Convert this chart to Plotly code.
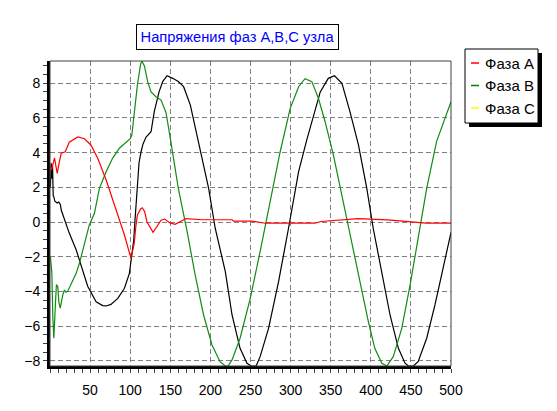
import plotly.graph_objects as go

# ---------------- data ----------------
t_a = [0, 2, 5.6, 9, 11.8, 14, 19, 24, 34.6, 43, 51, 59.5, 70, 82.4, 92.8, 101,
       105, 107, 109, 113, 115, 118, 121, 128.5, 138.5, 143, 149, 156, 169.6,
       190, 227, 229, 252, 268, 330, 338, 359, 384, 421, 448, 469, 500]
v_a = [3.3, 3.0, 3.7, 2.8, 3.5, 3.96, 4.05, 4.6, 4.9, 4.8, 4.44, 3.67, 2.42, 0.7,
       -0.75, -2.1, -1.23, -0.27, 0.4, 0.75, 0.82, 0.6, 0.0, -0.6, 0.1, 0.17,
       -0.04, -0.13, 0.2, 0.13, 0.13, 0.05, 0.05, -0.07, -0.07, 0.03, 0.1, 0.2,
       0.12, 0.03, -0.06, -0.06]

t_b = [0.5, 2.3, 3.5, 4.8, 6.8, 8, 9.7, 11, 12.7, 14.5, 16, 18, 20, 22, 26.4,
       32.6, 36.7, 43, 49, 55.4, 61.6, 70, 78, 86.5, 95, 100, 102, 105, 109,
       113, 114.5, 117.7, 121.8, 126, 132, 138.5, 144.7, 150, 155, 160, 171,
       181, 191.5, 202, 212, 218.6, 222, 227, 237, 249.7, 262, 274.6, 287,
       299.5, 310, 318, 326.5, 334.7, 343, 353.4, 364, 376, 386.7, 397, 405,
       413.7, 420, 428, 438.6, 449, 459, 469.7, 482, 492.5, 500]
v_b = [-2.0, -2.9, -5.46, -6.7, -4.69, -3.6, -3.73, -4.6, -4.97, -4.4, -4.2,
       -3.92, -4.05, -4.0, -3.53, -2.96, -2.38, -1.23, -0.17, 0.5, 1.94, 2.9,
       3.67, 4.25, 4.63, 4.8, 5.0, 6.36, 7.9, 9.1, 9.28, 9.0, 8.09, 7.5, 7.22,
       7.03, 6.3, 4.82, 3.48, 1.94, -0.56, -3.05, -5.36, -7.09, -8.05, -8.3,
       -8.3, -7.95, -6.7, -4.4, -1.71, 1.17, 4.05, 6.55, 7.8, 8.26, 8.09, 7.13,
       5.78, 3.86, 1.56, -1.13, -3.44, -5.75, -7.28, -8.14, -8.3, -7.76, -6.13,
       -3.63, -0.94, 1.94, 4.63, 5.98, 6.93]

t_c = [0.5, 1.5, 2.5, 3.2, 4, 4.8, 6, 9, 11, 13, 14, 18, 24, 32.6, 38.8, 47,
       57.5, 65.7, 70, 76, 84.5, 92.8, 99, 101.9, 104.4, 106, 107.5, 109, 111,
       113.5, 116, 119.8, 126, 130, 136, 140.5, 146, 153, 156, 160, 166.6, 175,
       185, 197.8, 206, 218.6, 227, 237, 245.6, 251, 257, 262, 272.5, 285,
       297.4, 310, 320, 330.6, 337, 347, 354.7, 364, 374, 384.6, 395, 403,
       413.7, 424, 434.4, 442.7, 447, 453, 459, 469.7, 480, 490, 500]
v_c = [2.0, 3.4, 2.5, 3.2, 1.5, 1.46, 1.2, 1.09, 1.15, 1.0, 0.69, 0.12, -0.64,
       -1.6, -2.57, -3.7, -4.6, -4.82, -4.84, -4.75, -4.4, -3.82, -2.96, -2.0,
       -1.04, 0.12, 1.2, 2.13, 3.4, 4.05, 4.5, 4.9, 5.2, 6.36, 7.5, 8.09, 8.43,
       8.28, 8.22, 8.1, 7.8, 6.74, 4.63, 1.94, -0.36, -2.86, -5.36, -7.28,
       -8.14, -8.3, -8.3, -7.76, -6.13, -3.44, -0.36, 2.9, 4.7, 6.55, 7.5, 8.28,
       8.43, 7.99, 6.36, 4.44, 1.94, -0.36, -2.86, -5.36, -7.28, -8.14, -8.3,
       -8.3, -8.05, -6.7, -4.78, -2.67, -0.6]

x_ticks = [50, 100, 150, 200, 250, 300, 350, 400, 450, 500]
y_ticks = [-8, -6, -4, -2, 0, 2, 4, 6, 8]
legend_names = ["Фаза A", "Фаза B", "Фаза C"]
legend_colors = ["#ff0000", "#008000", "#ffff00"]
title_text = "Напряжения фаз A,B,C узла"

# ---------------- figure ----------------
W, H = 557, 411
ML, MR, MT, MB = 50, 106, 61, 45
PW, PH = W - ML - MR, H - MT - MB
FONT = "Liberation Sans, Arial, sans-serif"


def px(x):
    return (x - ML) / PW


def py(y):
    return (H - MB - y) / PH


fig = go.Figure()
fig.add_trace(go.Scatter(x=t_c, y=v_c, mode="lines", name="Фаза C",
                         line=dict(color="#000000", width=1.2), showlegend=False))
fig.add_trace(go.Scatter(x=t_b, y=v_b, mode="lines", name="Фаза B",
                         line=dict(color="#108c10", width=1.2), showlegend=False))
fig.add_trace(go.Scatter(x=t_a, y=v_a, mode="lines", name="Фаза A",
                         line=dict(color="#ff0000", width=1.2), showlegend=False))

axis_common = dict(
    showgrid=True, gridcolor="#808080", gridwidth=1, griddash="5px,3px",
    zeroline=False, showline=True, linecolor="#000000", linewidth=3,
    ticks="outside", ticklen=4, tickcolor="#404040", tickwidth=1,
    tickfont=dict(family=FONT, size=14, color="#000000"),
)

fig.update_xaxes(range=[0, 500], tickmode="array", tickvals=x_ticks,
                 ticklabelstandoff=5,
                 minor=dict(dtick=10, tick0=0, ticks="outside", ticklen=4,
                            tickcolor="#404040", showgrid=False),
                 **axis_common)
fig.update_yaxes(range=[-8.3, 9.28], tickmode="array", tickvals=y_ticks,
                 minor=dict(dtick=0.5, tick0=0, ticks="outside", ticklen=4,
                            tickcolor="#404040", showgrid=False),
                 **axis_common)

shapes = [
    # thin frame (top/right)
    dict(type="rect", xref="paper", yref="paper", x0=0, x1=1, y0=0, y1=1,
         line=dict(color="#404040", width=1), layer="above"),
    # legend shadow and box
    dict(type="rect", xref="paper", yref="paper", x0=px(469), x1=px(542),
         y0=py(127), y1=py(53), fillcolor="#000000", line=dict(width=0)),
    dict(type="rect", xref="paper", yref="paper", x0=px(465), x1=px(538),
         y0=py(123), y1=py(49), fillcolor="#ffffff",
         line=dict(color="#000000", width=1)),
]
annotations = [
    dict(text=title_text, xref="paper", yref="paper", x=px(237.5), y=py(37),
         xanchor="center", yanchor="middle", showarrow=False,
         font=dict(family=FONT, size=14.7, color="#0000ff"),
         bgcolor="#ffffff", bordercolor="#000000", borderwidth=1,
         borderpad=0, width=201, height=24),
]
entry_y = [63, 85.5, 108]
for name, col, yy in zip(legend_names, legend_colors, entry_y):
    shapes.append(dict(type="line", xref="paper", yref="paper",
                       x0=px(471), x1=px(479), y0=py(yy), y1=py(yy),
                       line=dict(color=col, width=1.5)))
    annotations.append(dict(text=name, xref="paper", yref="paper",
                            x=px(483), y=py(yy), xanchor="left",
                            yanchor="middle", showarrow=False,
                            font=dict(family=FONT, size=15, color="#000000")))

fig.update_layout(
    width=W, height=H, autosize=False,
    margin=dict(l=ML, r=MR, t=MT, b=MB),
    paper_bgcolor="#ffffff", plot_bgcolor="#ffffff",
    showlegend=False,
    shapes=shapes, annotations=annotations,
)

fig.write_html("out.html")
